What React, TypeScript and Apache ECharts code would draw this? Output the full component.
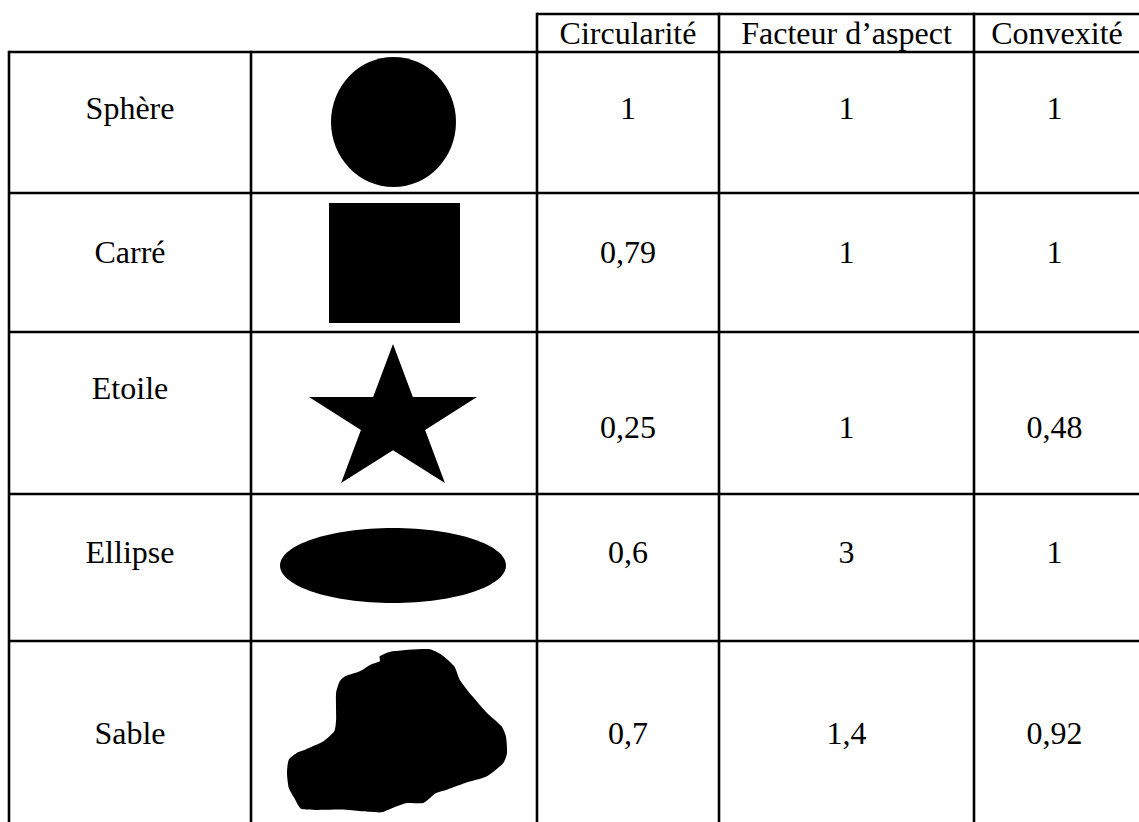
import React, { useEffect, useRef } from "react";
import * as echarts from "echarts";

// ---- data ----
const shapeNames = ["Sphère", "Carré", "Etoile", "Ellipse", "Sable"];
const metricNames = ["Circularité", "Facteur d’aspect", "Convexité"];
const circularity = [1, 0.79, 0.25, 0.6, 0.7];
const aspectRatio = [1, 1, 1, 3, 1.4];
const convexity = [1, 1, 0.48, 1, 0.92];
const shapeKinds = ["circle", "square", "star", "ellipse", "sand"];

// ---- layout (page pixels) ----
const W = 1139;
const H = 822;
const colEdges = [9, 251, 537, 719, 974, 1142];
const rowEdges = [52, 193, 332, 494, 641, 826];
const headerTop = 14;
const headerTextY = 33;
const labelY = [108, 252, 388, 552, 733];
const valueY = [108, 252, 427, 552, 733];
const shapeBoxes = [
  [331, 57, 456, 187],
  [329, 203, 460, 323],
  [309, 344, 477, 483],
  [280, 528, 506, 603],
  [287, 649, 507, 813],
];
// outline of the sand grain, in a 605 x 492 reference box
const sandOutline = [
  [1045, 590], [1080, 575], [1180, 568], [1215, 585], [1250, 620], [1265, 660],
  [1300, 710], [1340, 760], [1380, 800], [1392, 830], [1395, 880], [1385, 910],
  [1340, 950], [1280, 970], [1230, 990], [1200, 1000], [1165, 1030], [1120, 1030],
  [1080, 1045], [1050, 1058], [1000, 1055], [950, 1050], [830, 1048], [810, 1015],
  [795, 985], [790, 940], [795, 900], [820, 878], [840, 870], [890, 845],
  [920, 815], [925, 780], [925, 700], [935, 665], [950, 650], [990, 635],
  [1020, 615], [1045, 605],
];

const FONT = "Liberation Serif, serif";
const FONT_SIZE = 32;
const LINE_W = 2.6;

const fmt = (v: number) => String(v).replace(".", ",");

export default function App() {
  const ref = useRef<HTMLDivElement>(null);

  useEffect(() => {
    if (!ref.current) return;
    const chart = echarts.init(ref.current, undefined, { renderer: "svg" });

    // table lines
    const lines: number[][] = [];
    lines.push([colEdges[2], headerTop, colEdges[5], headerTop]);
    for (let c = 2; c <= 4; c++) lines.push([colEdges[c], headerTop, colEdges[c], rowEdges[0]]);
    for (let r = 0; r < rowEdges.length; r++) lines.push([colEdges[0], rowEdges[r], colEdges[5], rowEdges[r]]);
    for (let c = 0; c < colEdges.length; c++) lines.push([colEdges[c], rowEdges[0], colEdges[c], rowEdges[rowEdges.length - 1]]);

    // texts
    const texts: { x: number; y: number; t: string }[] = [];
    metricNames.forEach((m, i) => {
      texts.push({ x: (colEdges[i + 2] + Math.min(colEdges[i + 3], W - 3)) / 2 + (i === 2 ? 2 : 0), y: headerTextY, t: m });
    });
    const metricValues = [circularity, aspectRatio, convexity];
    shapeNames.forEach((n, r) => {
      texts.push({ x: (colEdges[0] + colEdges[1]) / 2, y: labelY[r], t: n });
      metricValues.forEach((arr, i) => {
        const right = i === 2 ? 1139 : colEdges[i + 3];
        texts.push({ x: (colEdges[i + 2] + right) / 2 - (i === 2 ? 2 : 0), y: valueY[r], t: fmt(arr[r]) });
      });
    });

    const option: any = {
      animation: false,
      backgroundColor: "#ffffff",
      textStyle: { fontFamily: FONT },
      grid: { left: 0, right: 0, top: 0, bottom: 0 },
      xAxis: { type: "value", min: 0, max: W, show: false },
      yAxis: { type: "value", min: 0, max: H, inverse: true, show: false },
      series: [
        {
          type: "custom",
          clip: false,
          silent: true,
          data: shapeKinds.map((k, i) => [i, i]),
          renderItem: (params: any, api: any) => {
            const r = params.dataIndex;
            const kind = shapeKinds[r];
            const b = shapeBoxes[r];
            const p0 = api.coord([b[0], b[1]]);
            const p1 = api.coord([b[2], b[3]]);
            const x0 = p0[0], y0 = p0[1], x1 = p1[0], y1 = p1[1];
            const cx = (x0 + x1) / 2, cy = (y0 + y1) / 2;
            const style = { fill: "#000000" };
            if (kind === "circle" || kind === "ellipse") {
              return { type: "ellipse", shape: { cx, cy, rx: (x1 - x0) / 2, ry: (y1 - y0) / 2 }, style };
            }
            if (kind === "square") {
              return { type: "rect", shape: { x: x0, y: y0, width: x1 - x0, height: y1 - y0 }, style };
            }
            if (kind === "star") {
              const rx = (x1 - x0) / 2 / Math.sin((72 * Math.PI) / 180);
              const ry = (y1 - y0) / (1 + Math.cos((36 * Math.PI) / 180));
              const scy = y0 + ry;
              const pts: number[][] = [];
              for (let k = 0; k < 10; k++) {
                const a = -Math.PI / 2 + (k * Math.PI) / 5;
                const f = k % 2 === 0 ? 1 : 0.382;
                pts.push([cx + rx * f * Math.cos(a), scy + ry * f * Math.sin(a)]);
              }
              return { type: "polygon", shape: { points: pts }, style };
            }
            // sand grain
            const pts = sandOutline.map(([px, py]) => [
              x0 + ((px - 790) / 605) * (x1 - x0),
              y0 + ((py - 568) / 492) * (y1 - y0),
            ]);
            return { type: "polygon", shape: { points: pts, smooth: 0.2 }, style };
          },
        },
        {
          type: "custom",
          clip: false,
          silent: true,
          data: lines,
          renderItem: (params: any, api: any) => {
            const l = lines[params.dataIndex];
            const a = api.coord([l[0], l[1]]);
            const b = api.coord([l[2], l[3]]);
            const vertical = Math.abs(a[0] - b[0]) < 0.1;
            return {
              type: "line",
              shape: {
                x1: a[0], y1: a[1] - (vertical ? LINE_W / 2 : 0),
                x2: b[0], y2: b[1] + (vertical ? LINE_W / 2 : 0),
              },
              style: { stroke: "#000000", lineWidth: LINE_W },
            };
          },
        },
        {
          type: "custom",
          clip: false,
          silent: true,
          data: texts.map((t) => [t.x, t.y]),
          renderItem: (params: any, api: any) => {
            const t = texts[params.dataIndex];
            const p = api.coord([t.x, t.y]);
            return {
              type: "text",
              x: p[0],
              y: p[1],
              style: {
                text: t.t,
                fontFamily: FONT,
                fontSize: FONT_SIZE,
                fill: "#000000",
                align: "center",
                verticalAlign: "middle",
              },
            };
          },
        },
      ],
    };
    chart.setOption(option);
    return () => chart.dispose();
  }, []);

  return (
    <div
      ref={ref}
      style={{ position: "fixed", left: 0, top: 0, width: W, height: H, background: "#fff" }}
    />
  );
}
